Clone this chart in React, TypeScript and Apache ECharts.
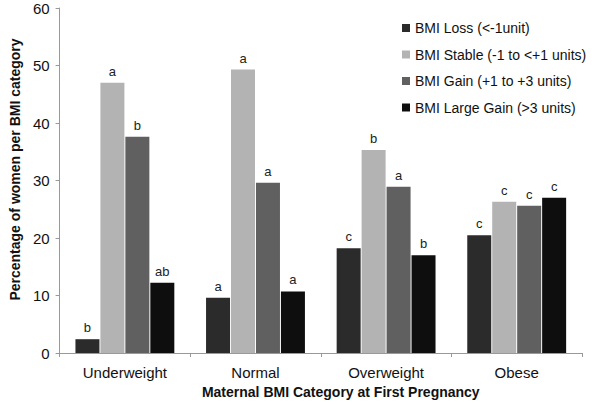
import React, { useEffect, useRef } from "react";
import * as echarts from "echarts";

const categories = ["Underweight", "Normal", "Overweight", "Obese"];
const seriesNames = [
  "BMI Loss (<-1unit)",
  "BMI Stable (-1 to <+1 units)",
  "BMI Gain (+1 to +3 units)",
  "BMI Large Gain (>3 units)",
];
const lossValues = [2.4, 9.6, 18.2, 20.5];
const stableValues = [47.0, 49.3, 35.3, 26.3];
const gainValues = [37.6, 29.6, 28.9, 25.6];
const largeGainValues = [12.2, 10.7, 17.0, 27.0];
const lossLetters = ["b", "a", "c", "c"];
const stableLetters = ["a", "a", "b", "c"];
const gainLetters = ["b", "a", "a", "c"];
const largeGainLetters = ["ab", "a", "b", "c"];
const yTicks = [0, 10, 20, 30, 40, 50, 60];
const colors = ["#2b2b2b", "#b3b3b3", "#606060", "#0e0e0e"];

const FONT = "Liberation Sans, Arial, Helvetica, sans-serif";

export default function App() {
  const ref = useRef<HTMLDivElement>(null);
  useEffect(() => {
    document.body.style.margin = "0";
    if (!ref.current) return;
    const chart = echarts.init(ref.current, null, { renderer: "svg" });
    const valuesList = [lossValues, stableValues, gainValues, largeGainValues];
    const lettersList = [lossLetters, stableLetters, gainLetters, largeGainLetters];
    chart.setOption({
      animation: false,
      backgroundColor: "#ffffff",
      textStyle: { fontFamily: FONT },
      legend: {
        orient: "vertical",
        left: 397,
        top: 16,
        itemWidth: 8,
        itemHeight: 8,
        itemGap: 12.5,
        icon: "rect",
        textStyle: { fontFamily: FONT, fontSize: 14, color: "#111" },
        data: seriesNames,
      },
      grid: { left: 49, right: 18, top: 8, bottom: 51 },
      xAxis: {
        type: "category",
        data: categories,
        name: "Maternal BMI Category at First Pregnancy",
        nameLocation: "middle",
        nameGap: 26,
        nameTextStyle: {
          fontFamily: FONT,
          fontSize: 14,
          fontWeight: "bold",
          color: "#111",
          padding: [0, 0, 0, 40],
        },
        axisLine: { lineStyle: { color: "#999", width: 1 } },
        axisTick: { show: true, length: 4, lineStyle: { color: "#999" } },
        axisLabel: { fontFamily: FONT, fontSize: 15, color: "#111", margin: 12 },
      },
      yAxis: {
        type: "value",
        min: yTicks[0],
        max: yTicks[yTicks.length - 1],
        interval: 10,
        name: "Percentage of women per BMI category",
        nameLocation: "middle",
        nameGap: 36,
        nameTextStyle: {
          fontFamily: FONT,
          fontSize: 14,
          fontWeight: "bold",
          color: "#111",
          padding: [0, 0, 0, 22],
        },
        axisLine: { show: true, lineStyle: { color: "#999", width: 1 } },
        axisTick: { show: true, length: 4, lineStyle: { color: "#999" } },
        axisLabel: { fontFamily: FONT, fontSize: 15, color: "#111", margin: 10 },
        splitLine: { show: false },
      },
      series: seriesNames.map((name, i) => ({
        name,
        type: "bar",
        barWidth: 24,
        barGap: "4%",
        itemStyle: { color: colors[i] },
        label: {
          show: true,
          position: "top",
          distance: 5,
          fontFamily: FONT,
          fontSize: 13,
          color: "#222",
          formatter: (p: any) => lettersList[i][p.dataIndex],
        },
        data: valuesList[i],
      })),
    });
    return () => chart.dispose();
  }, []);
  return <div ref={ref} style={{ width: 600, height: 404 }} />;
}
